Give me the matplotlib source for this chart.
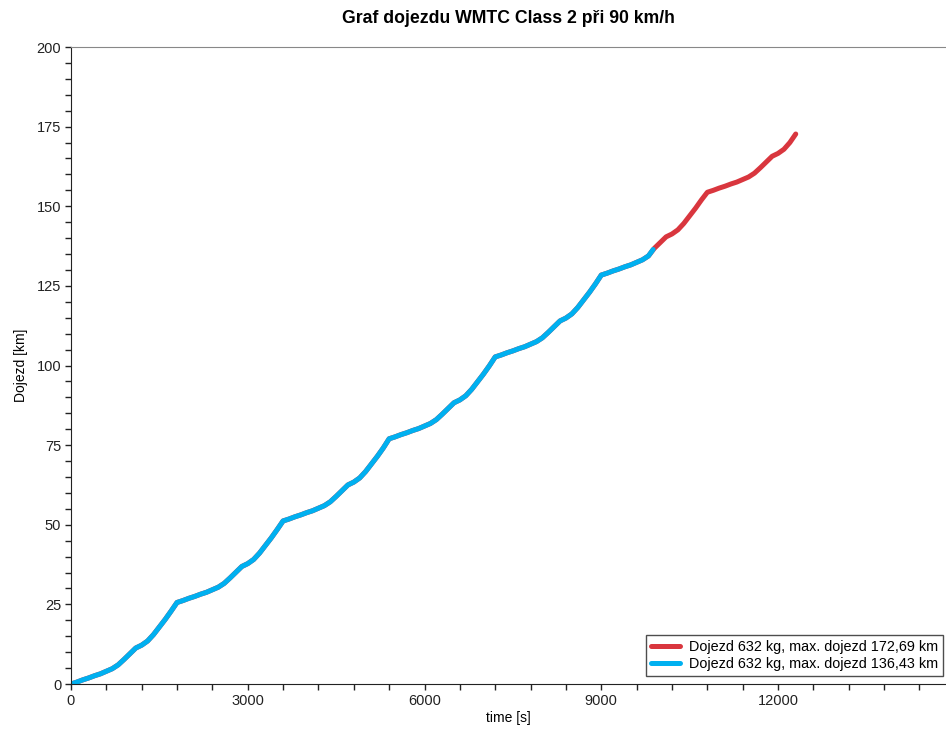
import matplotlib
matplotlib.use("Agg")
import matplotlib.pyplot as plt
from matplotlib.ticker import MultipleLocator

plt.rcParams['font.family'] = ['Liberation Sans', 'DejaVu Sans']

# time [s] sampled every 100 s
time_s = list(range(0, 12301, 100))

# distance [km], 632 kg run with full range
dist_full = [
    0.0, 0.6, 1.3, 1.9, 2.6, 3.2, 4.0, 4.8, 6.0, 7.7, 9.5, 11.3, 12.2, 13.5, 15.5, 17.9, 20.3, 22.9,
    25.6, 26.2, 26.9, 27.5, 28.2, 28.8, 29.6, 30.4, 31.6, 33.3, 35.1, 36.9, 37.8, 39.1, 41.1, 43.5, 45.9, 48.5,
    51.2, 51.8, 52.5, 53.1, 53.8, 54.4, 55.2, 56.0, 57.2, 58.9, 60.7, 62.5, 63.4, 64.7, 66.7, 69.1, 71.5, 74.1,
    77.0, 77.6, 78.3, 78.9, 79.6, 80.2, 81.0, 81.8, 83.0, 84.7, 86.5, 88.3, 89.2, 90.5, 92.5, 94.9, 97.3, 99.9,
    102.7, 103.3, 104.0, 104.6, 105.3, 105.9, 106.7, 107.5, 108.7, 110.4, 112.2, 114.0, 114.9, 116.2, 118.2, 120.6, 123.0, 125.6,
    128.4, 129.0, 129.7, 130.3, 131.0, 131.6, 132.4, 133.2, 134.4, 136.8, 138.6, 140.4, 141.3, 142.6, 144.6, 147.0, 149.4, 152.0,
    154.4, 155.0, 155.7, 156.3, 157.0, 157.6, 158.4, 159.2, 160.4, 162.1, 163.9, 165.7, 166.6, 167.9, 170.0, 172.69,
]

# distance [km], 632 kg run ending earlier
time_short = list(range(0, 9801, 100)) + [9880]
dist_short = dist_full[:99] + [136.43]

label_full = "Dojezd 632 kg, max. dojezd 172,69 km"
label_short = "Dojezd 632 kg, max. dojezd 136,43 km"

fig = plt.figure(figsize=(9.46, 7.29), dpi=100)
ax = fig.add_axes([0.075, 0.0617, 0.925, 0.8738])

ax.plot(time_s, dist_full, color="#d9363e", lw=3.6, label=label_full, solid_capstyle="round")
ax.plot(time_short, dist_short, color="#00b0f0", lw=3.6, label=label_short, solid_capstyle="round")

ax.set_xlim(0, 14850)
ax.set_ylim(0, 200)
ax.xaxis.set_major_locator(MultipleLocator(3000))
ax.xaxis.set_minor_locator(MultipleLocator(600))
ax.yaxis.set_major_locator(MultipleLocator(25))
ax.yaxis.set_minor_locator(MultipleLocator(5))
ax.tick_params(which="both", direction="out", length=4, width=1, labelsize=10.5, colors="#222222")
ax.tick_params(axis="x", pad=3)
ax.tick_params(axis="y", pad=3)

ax.spines["right"].set_visible(False)
ax.spines["top"].set_color("#888888")
ax.spines["left"].set_color("#222222")
ax.spines["bottom"].set_color("#222222")

ax.set_xlabel("time [s]", fontsize=10, labelpad=2)
ax.set_ylabel("Dojezd [km]", fontsize=10, labelpad=6)
ax.set_title("Graf dojezdu WMTC Class 2 při 90 km/h", fontsize=12.7, fontweight="bold", pad=17)

leg = ax.legend(loc="lower right", fontsize=10.4, frameon=True, fancybox=False,
                edgecolor="#222222", handlelength=2.0, handletextpad=0.6,
                borderaxespad=0.0, bbox_to_anchor=(0.9966, 0.0125),
                borderpad=0.35, labelspacing=0.2)
leg.get_frame().set_linewidth(1.0)

fig.savefig("out.png", dpi=100)
